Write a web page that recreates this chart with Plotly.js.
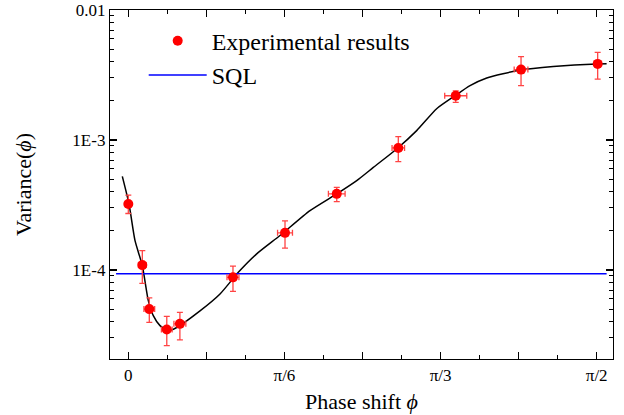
<!DOCTYPE html>
<html>
<head>
<meta charset="utf-8">
<script src="https://cdn.plot.ly/plotly-3.0.1.min.js"></script>
<style>html,body{margin:0;padding:0;background:#fff;}#chart{width:624px;height:415px;}</style>
</head>
<body>
<div id="chart"></div>
<script>
// Experimental points (phase shift in rad, variance)
const expX = [0, 0.047, 0.0704, 0.129, 0.173, 0.351, 0.5255, 0.699, 0.9054, 1.098, 1.317, 1.574];
const expY = [3.22e-4, 1.09e-4, 5.0e-5, 3.48e-5, 3.85e-5, 8.77e-5, 1.93e-4, 3.85e-4, 8.68e-4, 2.19e-3, 3.48e-3, 3.85e-3];
const expYPlus = [0.55e-4, 0.32e-4, 1.09e-5, 0.92e-5, 0.87e-5, 1.93e-5, 0.46e-4, 0.47e-4, 1.92e-4, 0.20e-3, 0.90e-3, 0.87e-3];
const expYMinus = [0.50e-4, 0.302e-4, 1.05e-5, 0.86e-5, 0.95e-5, 1.93e-5, 0.46e-4, 0.50e-4, 1.87e-4, 0.24e-3, 0.86e-3, 0.91e-3];
const expXErr = [0.004, 0.013, 0.018, 0.018, 0.02, 0.02, 0.025, 0.028, 0.021, 0.037, 0.023, 0.004];

// Fitted theory curve
const fitX = [-0.0201, 0.0023, 0.0225, 0.047, 0.0671, 0.0838, 0.1063, 0.1341, 0.1623, 0.2404, 0.3075, 0.3689, 0.4306, 0.5087, 0.6093, 0.699, 0.766, 0.8216, 0.900, 0.967, 1.034, 1.0956, 1.146, 1.202, 1.314, 1.425, 1.571, 1.604];
const fitY = [5.25e-4, 3.22e-4, 1.68e-4, 1.08e-4, 5.81e-5, 4.45e-5, 3.73e-5, 3.41e-5, 3.61e-5, 4.84e-5, 6.53e-5, 9.59e-5, 1.33e-4, 1.84e-4, 2.86e-4, 3.85e-4, 4.87e-4, 6.15e-4, 8.53e-4, 1.18e-3, 1.74e-3, 2.19e-3, 2.62e-3, 3.00e-3, 3.45e-3, 3.68e-3, 3.85e-3, 3.86e-3];

// Standard quantum limit
const sqlX = [-0.041, 1.604];
const sqlY = [9.37e-5, 9.37e-5];

// Axis ticks
const PI = Math.PI;
const xTickVals = [0, PI/12, PI/6, PI/4, PI/3, 5*PI/12, PI/2];
const xTickText = ['0', '', 'π/6', '', 'π/3', '', 'π/2'];
const xMinorVals = [PI/24, 3*PI/24, 5*PI/24, 7*PI/24, 9*PI/24, 11*PI/24];
const yTickVals = [1e-4, 1e-3, 1e-2];
const yTickText = ['1E-4', '1E-3', '0.01'];
const yMinorVals = [];
[1e-5, 1e-4, 1e-3].forEach(d => { for (let k = 2; k <= 9; k++) yMinorVals.push(k * d); });

const font = 'Liberation Serif, Times New Roman, serif';

const traces = [
  {x: fitX, y: fitY, mode: 'lines', line: {color: '#000', width: 1.5, shape: 'spline', smoothing: 0.6}, showlegend: false, hoverinfo: 'skip'},
  {x: sqlX, y: sqlY, mode: 'lines', name: 'SQL', line: {color: '#0000ff', width: 1.5}, legendrank: 2},
  {x: expX, y: expY, mode: 'markers', name: 'Experimental results', legendrank: 1,
   marker: {color: '#ff0000', size: 10},
   error_y: {type: 'data', symmetric: false, array: expYPlus, arrayminus: expYMinus, color: '#ff4444', thickness: 1.3, width: 3},
   error_x: {type: 'data', array: expXErr, color: '#ff4444', thickness: 1.3, width: 3}}
];

const layout = {
  width: 624, height: 415,
  margin: {l: 110, r: 11, t: 10, b: 56},
  paper_bgcolor: '#fff', plot_bgcolor: '#fff',
  font: {family: font, color: '#000', size: 17},
  showlegend: true,
  legend: {x: 0.067, y: 0.975, xanchor: 'left', yanchor: 'top', bgcolor: 'rgba(0,0,0,0)', font: {family: font, size: 24}, itemwidth: 58, tracegroupgap: 0},
  xaxis: {
    range: [-0.0614, 1.6254], showgrid: false, zeroline: false,
    showline: true, linecolor: '#000', linewidth: 1.2, mirror: 'allticks',
    ticks: 'inside', ticklen: 7, tickwidth: 1.2, tickcolor: '#000',
    tickmode: 'array', tickvals: xTickVals, ticktext: xTickText,
    tickfont: {family: font, size: 17},
    minor: {tickmode: 'array', tickvals: xMinorVals, ticks: 'inside', ticklen: 4, tickwidth: 1, tickcolor: '#000', showgrid: false},
    title: {text: 'Phase shift <i>ϕ</i>', font: {family: font, size: 22}, standoff: 10}
  },
  yaxis: {
    type: 'log', range: [-4.685, -2.0], showgrid: false, zeroline: false,
    showline: true, linecolor: '#000', linewidth: 1.2, mirror: 'allticks',
    ticks: 'inside', ticklen: 7, tickwidth: 1.2, tickcolor: '#000',
    tickmode: 'array', tickvals: yTickVals, ticktext: yTickText,
    tickfont: {family: font, size: 17},
    minor: {tickmode: 'array', tickvals: yMinorVals, ticks: 'inside', ticklen: 4, tickwidth: 1, tickcolor: '#000', showgrid: false},
    title: {text: 'Variance(<i>ϕ</i>)', font: {family: font, size: 22}, standoff: 34}
  }
};

Plotly.newPlot('chart', traces, layout, {displayModeBar: false, staticPlot: true});
</script>
</body>
</html>
